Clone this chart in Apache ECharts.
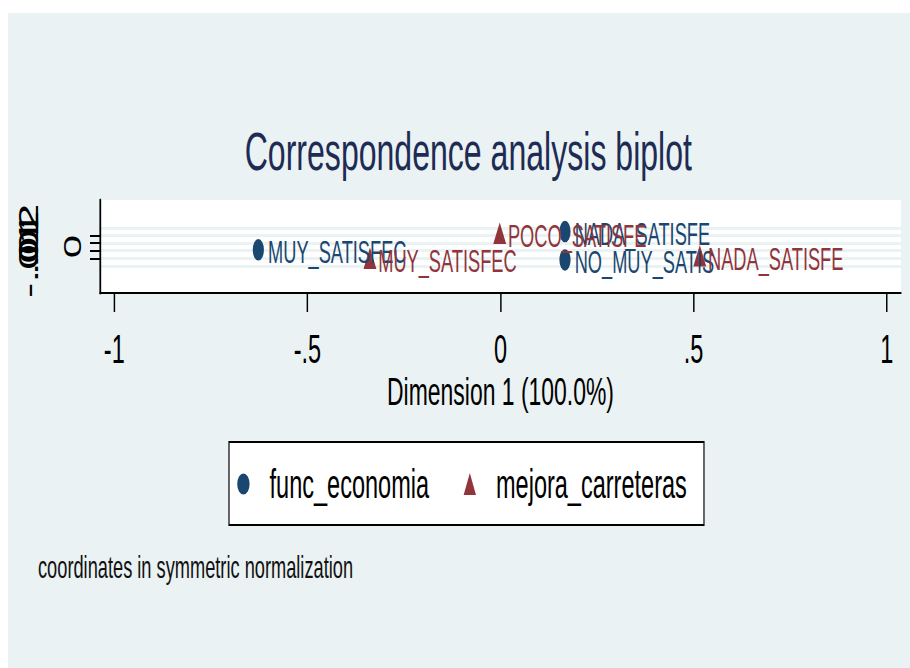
<!DOCTYPE html>
<html><head><meta charset="utf-8">
<script src="https://cdn.jsdelivr.net/npm/echarts@6/dist/echarts.min.js"></script>
<style>
html,body{margin:0;padding:0;background:#fff;overflow:hidden;width:910px;height:668px;}
#wrap{position:absolute;left:0;top:0;width:910px;height:668px;overflow:hidden;}
#chart{position:absolute;left:0;top:0;width:1547px;height:668px;transform:scaleX(0.5882353);transform-origin:0 0;}
</style></head><body>
<div id="wrap"><div id="chart"></div></div>
<script>
// ---- data ----
const xTickValues = [-1, -0.5, 0, 0.5, 1];
const xTickLabels = ['-1', '-.5', '0', '.5', '1'];
const yTickValues = [-0.02, -0.01, 0, 0.01, 0.02, 0.03];
const yTickLabels = ['-.02', '-.01', '0', '.01', '.02', '.03'];
const seriesNames = ['func_economia', 'mejora_carreteras'];
const funcLabels = ['MUY_SATISFEC', 'NADA_SATISFE', 'NO_MUY_SATIS'];
const funcX = [-0.627, 0.167, 0.167];
const funcY = [0.0012, 0.0255, -0.0122];
const mejoraLabels = ['MUY_SATISFEC', 'POCO_SATISFE', 'NADA_SATISFE'];
const mejoraX = [-0.338, -0.002, 0.516];
const mejoraY = [-0.0101, 0.0233, -0.0065];
const titleText = 'Correspondence analysis biplot';
const xAxisTitle = 'Dimension 1 (100.0%)';
const yAxisTitle = '0';
const noteText = 'coordinates in symmetric normalization';

// ---- layout ----
const K = 1.7; // horizontal stretch; page is compressed back with CSS scaleX(1/K)
const FONT = '"Liberation Sans", Arial, Helvetica, sans-serif';
const BLUE = '#1a476f', RED = '#90353b', BG = '#eaf2f3';
const ELLIPSE = 'path://M0,50A50,50,0,1,1,100,50A50,50,0,1,1,0,50Z';

function lookup(vals, labs, v) {
  const i = vals.findIndex(t => Math.abs(t - v) < 1e-9);
  return i >= 0 ? labs[i] : '';
}

const chart = echarts.init(document.getElementById('chart'), null, {renderer: 'svg'});
chart.setOption({
  backgroundColor: '#ffffff',
  animation: false,
  textStyle: {fontFamily: FONT},
  graphic: {elements: [{
    type: 'rect', z: -100, silent: true,
    shape: {x: 8 * K, y: 13, width: (910 - 8) * K, height: 668 - 13},
    style: {fill: BG}
  }]},
  title: [{
    text: titleText, left: 416, top: 124, padding: 0,
    textStyle: {fontSize: 54.5, fontWeight: 'normal', color: '#1e2b54', fontFamily: FONT}
  }, {
    text: noteText, left: 38 * K, top: 552, padding: 0,
    textStyle: {fontSize: 31, fontWeight: 'normal', color: '#111', fontFamily: FONT}
  }],
  legend: {
    data: seriesNames, left: 229 * K, top: 442, orient: 'horizontal',
    padding: [22, 29, 21, 14], itemGap: 58.6, itemWidth: 21, itemHeight: 22,
    selectedMode: false, backgroundColor: '#fff', borderColor: '#000', borderWidth: 2,
    textStyle: {fontSize: 40, color: '#000', fontFamily: FONT, padding: [0, 0, 0, 29]}
  },
  grid: {left: 100 * K, right: (910 - 901) * K, top: 200, bottom: 668 - 293,
    show: true, backgroundColor: '#fff', borderWidth: 0, containLabel: false, outerBoundsMode: 'none'},
  xAxis: {
    type: 'value', min: -1.037, max: 1.037, position: 'bottom',
    axisLine: {show: true, onZero: false, lineStyle: {color: '#000', width: 2}},
    axisTick: {show: true, length: 19, customValues: xTickValues, lineStyle: {color: '#000', width: 2.5}},
    axisLabel: {show: true, margin: 36, fontSize: 40, color: '#000', fontFamily: FONT,
      customValues: xTickValues, formatter: v => lookup(xTickValues, xTickLabels, v)},
    splitLine: {show: false},
    name: xAxisTitle, nameLocation: 'middle', nameGap: 79, nameMoveOverlap: false,
    nameTextStyle: {fontSize: 39, color: '#000', fontFamily: FONT}
  },
  yAxis: {
    type: 'value', min: -0.0562, max: 0.0675, position: 'left',
    axisLine: {show: true, onZero: false, lineStyle: {color: '#000', width: 3}},
    axisTick: {show: true, length: 17, customValues: yTickValues, lineStyle: {color: '#000', width: 2}},
    axisLabel: {show: true, rotate: 90, margin: 99, fontSize: 46, color: '#000', fontFamily: FONT,
      customValues: yTickValues, formatter: v => lookup(yTickValues, yTickLabels, v)},
    splitLine: {show: true, lineStyle: {color: BG, width: 3}},
    name: yAxisTitle, nameLocation: 'middle', nameGap: 26, nameRotate: 90, nameMoveOverlap: false,
    nameTextStyle: {fontSize: 42, color: '#000', fontFamily: FONT}
  },
  series: [{
    name: seriesNames[0], type: 'scatter', symbol: ELLIPSE, symbolSize: [19, 21.5],
    itemStyle: {color: BLUE, opacity: 1},
    data: funcX.map((x, i) => [x, funcY[i], funcLabels[i]]),
    label: {show: true, position: 'right', distance: 7, offset: [0, 2], formatter: p => p.data[2],
      color: BLUE, fontSize: 31, fontFamily: FONT}
  }, {
    name: seriesNames[1], type: 'scatter', symbol: 'triangle', symbolSize: [22, 21.5],
    itemStyle: {color: RED, opacity: 1},
    data: mejoraX.map((x, i) => [x, mejoraY[i], mejoraLabels[i]]),
    label: {show: true, position: 'right', distance: 3, offset: [0, 3], formatter: p => p.data[2],
      color: RED, fontSize: 31, fontFamily: FONT}
  }]
});
</script>
</body></html>
